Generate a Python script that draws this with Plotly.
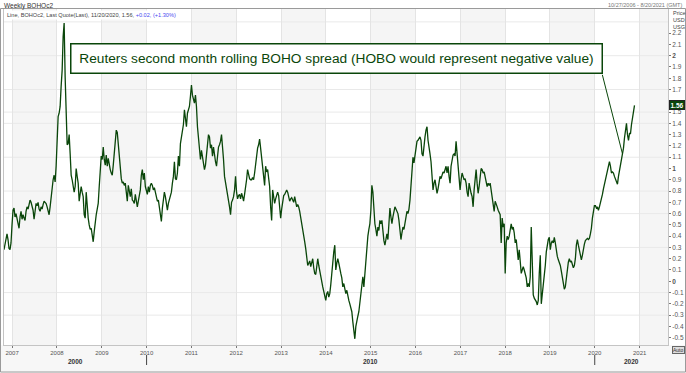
import plotly.graph_objects as go
import pandas as pd

# ---------------- data ----------------
spread_values = [
    0.28, 0.32, 0.37, 0.42, 0.37, 0.29, 0.28, 0.34, 0.50, 0.63,
    0.65, 0.57, 0.60, 0.56, 0.53, 0.47, 0.57, 0.62, 0.55, 0.59,
    0.56, 0.54, 0.62, 0.66, 0.64, 0.68, 0.72, 0.70, 0.67, 0.63,
    0.55, 0.65, 0.69, 0.67, 0.70, 0.64, 0.62, 0.66, 0.64, 0.68,
    0.71, 0.70, 0.69, 0.66, 0.62, 0.59, 0.66, 0.74, 0.84, 0.90,
    0.94, 0.88, 1.02, 1.22, 1.46, 1.49, 1.55, 1.73, 1.87, 2.17,
    2.29, 1.81, 1.40, 1.21, 1.22, 1.30, 1.13, 0.94, 0.90, 0.82,
    0.79, 0.84, 1.00, 0.93, 0.87, 0.71, 0.77, 0.84, 0.79, 0.75,
    0.59, 0.56, 0.79, 0.66, 0.56, 0.50, 0.46, 0.47, 0.41, 0.35,
    0.44, 0.53, 0.59, 0.64, 0.69, 0.84, 1.02, 1.11, 1.08, 1.19,
    1.08, 1.03, 1.12, 1.02, 1.09, 1.02, 0.99, 0.96, 0.94, 1.03,
    1.13, 1.28, 1.34, 1.32, 1.22, 1.08, 0.99, 0.91, 0.87, 0.88,
    0.85, 0.87, 0.79, 0.71, 0.85, 0.81, 0.75, 0.82, 0.72, 0.71,
    0.69, 0.77, 0.69, 0.66, 0.71, 0.75, 0.81, 0.94, 0.99, 0.90,
    0.96, 0.84, 0.79, 0.77, 0.84, 0.79, 0.85, 0.87, 0.85, 0.81,
    0.83, 0.79, 0.75, 0.71, 0.72, 0.66, 0.62, 0.53, 0.65, 0.72,
    0.79, 0.75, 0.66, 0.63, 0.69, 0.72,
    0.77, 0.79, 0.87, 0.93, 1.06, 0.91, 0.90, 0.96, 1.11, 1.02,
    1.22, 1.28, 1.37, 1.39, 1.52, 1.43, 1.37, 1.49, 1.52, 1.55,
    1.64, 1.74, 1.65, 1.62, 1.58, 1.65, 1.55, 1.37, 1.27, 1.18,
    1.08, 1.16, 1.09, 1.03, 0.99, 1.03, 1.13, 1.24, 1.30, 1.28,
    1.18, 1.21, 1.11, 1.19, 1.11, 1.06, 1.02, 1.11, 1.19, 1.21,
    1.24, 1.30, 1.22, 1.08, 0.93, 0.88, 0.81, 0.77, 0.74, 0.66,
    0.59, 0.70, 0.72, 0.75, 0.81, 0.93, 0.79, 0.73, 0.76, 0.77,
    0.73, 0.78, 0.75, 0.71, 0.77, 0.82, 0.90, 0.99, 0.94, 0.91,
    0.90, 0.90, 0.92, 0.90, 0.96, 1.04, 1.09, 1.18, 1.21, 1.26,
    1.18, 1.09, 1.03, 0.93, 0.85, 1.02, 0.97, 0.99, 0.90, 0.84,
    0.66, 0.54, 0.81, 0.75, 0.69, 0.73, 0.77, 0.79, 0.76, 0.63,
    0.56, 0.64, 0.69, 0.76, 0.77, 0.79, 0.81, 0.79, 0.74, 0.71,
    0.73, 0.74, 0.72, 0.70, 0.75, 0.69, 0.66, 0.68, 0.66, 0.62,
    0.57, 0.53, 0.47, 0.41, 0.35, 0.29, 0.20, 0.14, 0.16, 0.18,
    0.13, 0.16, 0.20, 0.12, 0.07, 0.06, 0.14, 0.20, 0.14, 0.09,
    0.03, -0.03, -0.05, -0.09, -0.15, -0.17, -0.11, -0.09, -0.14, -0.11,
    -0.03, 0.09, 0.17, 0.26, 0.32,
    0.10, 0.16, 0.20, 0.16, 0.10, 0.07, 0.03, -0.05, -0.02, -0.06,
    -0.11, -0.08, -0.14, -0.17, -0.20, -0.24, -0.27, -0.36, -0.43, -0.51,
    -0.40, -0.34, -0.31, -0.27, -0.20, -0.14, -0.02, 0.04, -0.05, 0.07,
    0.22, 0.34, 0.40, 0.46, 0.51, 0.63, 0.85, 0.79, 0.60, 0.51,
    0.46, 0.40, 0.48, 0.45, 0.54, 0.51, 0.54, 0.43, 0.36, 0.32,
    0.40, 0.42, 0.37, 0.51, 0.65, 0.57, 0.51, 0.57, 0.63, 0.66,
    0.64, 0.62, 0.60, 0.54, 0.47, 0.37, 0.43, 0.48, 0.46, 0.51,
    0.57, 0.62, 0.60, 0.64, 0.72, 0.87, 0.99, 1.10, 1.05, 1.11,
    1.19, 1.24, 1.25, 1.27, 1.28, 1.25, 1.13, 1.11, 1.22, 1.28,
    1.34, 1.37, 1.25, 1.16, 1.13, 1.06, 0.96, 0.81, 0.87, 0.90,
    0.84, 0.78, 0.82, 0.90, 0.93, 0.91, 0.94, 0.97, 0.96, 0.99,
    1.02, 0.96, 1.02, 0.93, 0.87, 1.02, 1.08, 1.12, 1.13, 1.11,
    1.24, 1.13, 1.02, 0.90, 0.81, 0.90, 0.96, 0.93, 0.90, 0.91,
    0.87, 0.79, 0.75, 0.87, 0.81, 0.78, 0.75, 0.66, 0.81, 0.90,
    0.99, 0.87, 0.78, 0.84, 0.93, 1.00, 0.99, 0.96, 0.97, 0.93,
    0.90, 0.84, 0.87, 0.85, 0.87, 0.81, 0.75, 0.66, 0.62, 0.71,
    0.69, 0.66, 0.63, 0.60, 0.59,
    0.34, 0.56, 0.48, 0.51, 0.07, 0.34, 0.40, 0.37, 0.40, 0.48,
    0.51, 0.46, 0.48, 0.43, 0.34, 0.37, 0.25, 0.19, 0.28, 0.16,
    0.07, 0.10, 0.13, 0.10, 0.07, 0.03, -0.05, -0.02, -0.05, 0.04,
    0.48, 0.16, -0.12, -0.15, -0.16, -0.18, -0.21, -0.17, 0.07, 0.23,
    -0.20, -0.12, -0.08, 0.03, 0.14, 0.26, 0.34, 0.37, 0.39, 0.28,
    0.34, 0.36, 0.34, 0.39, 0.34, 0.26, 0.22, 0.19, 0.17, 0.14,
    0.09, 0.03, -0.01, -0.07, -0.05, 0.03, 0.09, 0.17, 0.20, 0.17,
    0.18, 0.14, 0.12, 0.14, 0.20, 0.32, 0.37, 0.32, 0.28, 0.22,
    0.19, 0.23, 0.31, 0.33, 0.36, 0.37, 0.38, 0.37, 0.38, 0.42,
    0.47, 0.56, 0.62, 0.67, 0.67, 0.65, 0.66, 0.63, 0.66, 0.69,
    0.72, 0.77, 0.82, 0.86, 0.89, 0.94, 0.97, 1.03, 1.06, 1.02,
    0.96, 0.97, 0.96, 0.93, 0.90, 0.87, 0.86, 0.93, 0.98, 1.04,
    1.08, 1.13, 1.18, 1.27, 1.34, 1.40, 1.30, 1.25, 1.31, 1.31,
    1.39, 1.45, 1.51, 1.56,
]
first_date = "2006-10-27"
last_date = "2020-11-20"
x_range = ["2006-10-27", "2021-08-20"]
year_ticks = list(range(2007, 2022))
decade_labels = ["2000", "2010", "2020"]
decade_starts = ["2000-01-01", "2010-01-01", "2020-01-01", "2030-01-01"]
y_ticks = [round(-0.5 + 0.1 * i, 1) for i in range(28)]
grid_levels = [2.3, 2.0, 1.7, 1.5, 1.4, 1.1, 0.8, 0.6, 0.3, -0.1, -0.3]
y_range = [-0.565, 2.414]
pointer_index = 617

title_text = "Reuters second month rolling BOHO spread (HOBO would represent negative value)"
header_text = "Weekly BOHOc2"
legend_main = "Line, BOHOc2, Last Quote(Last), 11/20/2020, 1.56, "
legend_change = "+0.02, (+1.30%)"
span_text = "10/27/2006 - 8/20/2021 (GMT)"
unit_text = "Price<br>USD<br>USG"

# ---------------- style ----------------
W, H = 686, 373
ML, MR, MT, MB = 4, 18, 9, 28
PW, PH = W - ML - MR, H - MT - MB
GREEN = "#0a460a"
FONT = "Liberation Sans"

def px_x(p):
    return (p - ML) / PW

def px_y(p):
    return (H - MB - p) / PH

dates = pd.date_range(first_date, last_date, periods=len(spread_values))
last_value = spread_values[-1]

fig = go.Figure()
fig.add_trace(go.Scatter(
    x=dates, y=spread_values, mode="lines",
    line=dict(color=GREEN, width=1.3), hoverinfo="skip", showlegend=False,
))

shapes = []
for yr in year_ticks:
    if yr % 2 == 1:
        shapes.append(dict(type="rect", xref="x", yref="paper",
                           x0=f"{yr}-01-01", x1=f"{yr + 1}-01-01", y0=0, y1=1,
                           fillcolor="#f5f5f5", line=dict(width=0), layer="below"))
for g in grid_levels:
    shapes.append(dict(type="line", xref="paper", yref="y", x0=0, x1=1, y0=g, y1=g,
                       line=dict(color="#e9e9e9", width=1), layer="below"))
shapes.append(dict(type="rect", xref="paper", yref="paper",
                   x0=px_x(0), x1=px_x(W), y0=px_y(H), y1=px_y(H - MB),
                   fillcolor="#f7f7f7", line=dict(width=0), layer="below"))
shapes.append(dict(type="rect", xref="paper", yref="paper",
                   x0=px_x(0.5), x1=px_x(W - 0.5), y0=px_y(H - 1), y1=px_y(8.5),
                   line=dict(color="#9a9a9a", width=1), fillcolor="rgba(0,0,0,0)"))
for d in decade_starts[1:3]:
    shapes.append(dict(type="line", xref="x", yref="paper", x0=d, x1=d,
                       y0=px_y(355), y1=px_y(365), line=dict(color="#444", width=1)))

ann = []
ann.append(dict(text=header_text, xref="paper", yref="paper", x=px_x(2), y=px_y(0),
                xanchor="left", yanchor="top", showarrow=False,
                font=dict(family=FONT, size=6.5, color="#333")))
ann.append(dict(text=span_text, xref="paper", yref="paper", x=px_x(684), y=px_y(0.5),
                xanchor="right", yanchor="top", showarrow=False,
                font=dict(family=FONT, size=5.5, color="#777")))
ann.append(dict(text=legend_main + f"<span style='color:#4a4af0'>{legend_change}</span>",
                xref="paper", yref="paper", x=px_x(5), y=px_y(9.5),
                xanchor="left", yanchor="top", showarrow=False, bgcolor="white",
                font=dict(family=FONT, size=5.6, color="#444")))
ann.append(dict(text=unit_text, xref="paper", yref="paper", x=px_x(671), y=px_y(8.5),
                xanchor="left", yanchor="top", showarrow=False, align="left",
                font=dict(family=FONT, size=5.5, color="#444")))
ann.append(dict(text=title_text, xref="paper", yref="paper",
                x=px_x(336.5), y=px_y(58.5), xanchor="center", yanchor="middle",
                showarrow=False, width=526, height=24, borderpad=2, borderwidth=1.5,
                bordercolor=GREEN, bgcolor="white",
                font=dict(family=FONT, size=13.7, color=GREEN)))
ann.append(dict(text="", x=dates[pointer_index], y=spread_values[pointer_index],
                xref="x", yref="y", showarrow=True, arrowhead=0, arrowwidth=1,
                arrowcolor=GREEN, ax=-20.5, ay=-80.5, standoff=0, startstandoff=0))
ann.append(dict(text=f"<b>{last_value:.2f}</b>", xref="paper", yref="y",
                x=1.0015, y=last_value, xanchor="left", yanchor="middle",
                showarrow=False, bgcolor=GREEN, bordercolor="#222", borderwidth=1,
                borderpad=0.5, font=dict(family=FONT, size=6.5, color="white")))
ann.append(dict(text="Auto", xref="paper", yref="paper", x=px_x(672), y=px_y(346),
                xanchor="left", yanchor="top", showarrow=False, bgcolor="#ddd",
                bordercolor="#666", borderwidth=1, borderpad=0,
                font=dict(family=FONT, size=5, color="#333")))
x0 = pd.Timestamp(x_range[0])
x1 = pd.Timestamp(x_range[1])
for lab, a, b in zip(decade_labels, decade_starts[:-1], decade_starts[1:]):
    lo = max(pd.Timestamp(a), x0)
    hi = min(pd.Timestamp(b), x1)
    ann.append(dict(text=f"<b>{lab}</b>", xref="x", yref="paper", x=lo + (hi - lo) / 2,
                    y=px_y(356), xanchor="center", yanchor="top", showarrow=False,
                    font=dict(family=FONT, size=6.5, color="#333")))

def tick_label(v):
    if abs(v - last_value) < 0.06:
        return ""  # hidden behind the last-value marker
    return f"<b>{v:g}</b>" if float(v).is_integer() else f"{v:g}"

ytext = [tick_label(v) for v in y_ticks]

fig.update_layout(
    width=W, height=H,
    margin=dict(l=ML, r=MR, t=MT, b=MB, pad=0),
    paper_bgcolor="white", plot_bgcolor="white",
    shapes=shapes, annotations=ann, showlegend=False,
    xaxis=dict(type="date", range=x_range,
               tickvals=[f"{y}-01-01" for y in year_ticks],
               ticktext=[str(y) for y in year_ticks],
               tickfont=dict(family=FONT, size=6, color="#555"),
               showgrid=True, gridcolor="#e4e4e4", gridwidth=1,
               showline=True, linecolor="#c4c4c4", linewidth=1, mirror=True,
               ticks="outside", ticklen=2, tickcolor="#777",
               zeroline=False, automargin=False, fixedrange=True),
    yaxis=dict(side="right", range=y_range, tickvals=y_ticks, ticktext=ytext,
               tickfont=dict(family=FONT, size=6.5, color="#555"),
               showgrid=False, showline=True, linecolor="#c4c4c4", linewidth=1,
               mirror=True, ticks="outside", ticklen=2, tickcolor="#777",
               zeroline=False, automargin=False, fixedrange=True),
)

fig.write_html("out.html", config={"displayModeBar": False})

with open("out.html", "r", encoding="utf-8") as fh:
    page = fh.read()
page = page.replace("<head>", "<head><style>html,body{margin:0;padding:0;overflow:hidden;}</style>", 1)
with open("out.html", "w", encoding="utf-8") as fh:
    fh.write(page)
